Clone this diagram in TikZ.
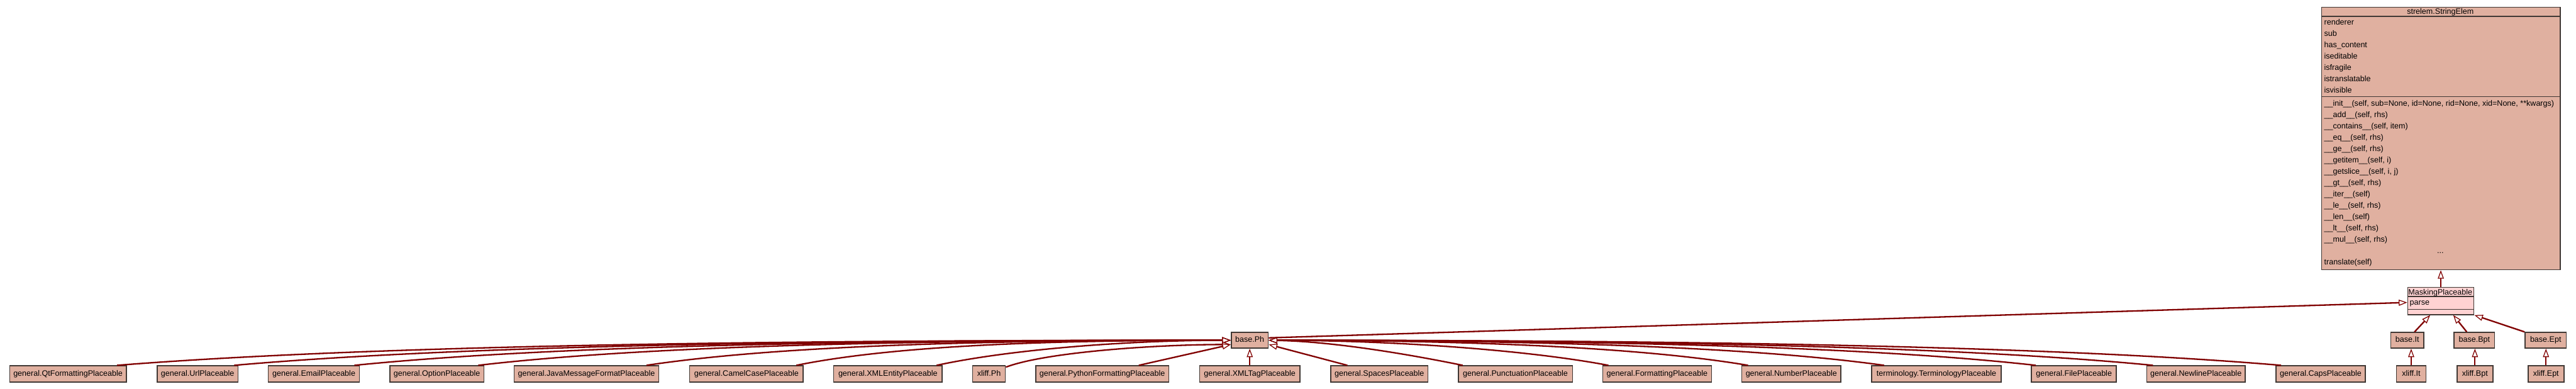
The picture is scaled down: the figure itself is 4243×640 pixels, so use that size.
\documentclass[tikz,border=0pt]{standalone}
\usepackage{fontspec}
\setmainfont{Liberation Sans}
\usetikzlibrary{arrows.meta}
\definecolor{clsfill}{RGB}{224,176,160}
\definecolor{maskfill}{RGB}{255,210,210}
\definecolor{clsborder}{RGB}{64,56,52}
\definecolor{edgecol}{RGB}{128,0,0}
\begin{document}
\begin{tikzpicture}[x=1pt, y=-1pt, font=\fontsize{13}{15}\selectfont,
  cls/.style={draw=clsborder, line width=1.6pt, fill=clsfill, inner sep=0pt, text height=9.4pt, text depth=2.8pt},
  boxrow/.style={cls, minimum height=27pt},
  baserow/.style={cls, minimum height=26pt},
  sepline/.style={draw=clsborder, line width=1.6pt},
  inh/.style={draw=edgecol, line width=2.4pt, -{Triangle[length=14pt,width=10pt,fill=white,line width=1.3pt]}},
  lbl/.style={anchor=base west, inner sep=0pt},
  ctr/.style={anchor=base, inner sep=0pt}]
\useasboundingbox (0,0) rectangle (4243,640);

% ---------- StringElem ----------
\node[draw=clsborder, line width=1.6pt, fill=clsfill, inner sep=0pt, minimum width=393pt, minimum height=432pt, anchor=north west] (se) at (3823,11) {};
\draw[sepline] (3823,27) -- (4216,27);
\draw[sepline] (3823,159) -- (4216,159);
\node[ctr] (seh) at (4019.5,23) {strelem.StringElem};
\node[lbl] (a1) at (3828,40.7) {renderer};
\node[lbl] (a2) at (3828,59.35) {sub};
\node[lbl] (a3) at (3828,78.0) {has\_content};
\node[lbl] (a4) at (3828,96.65) {iseditable};
\node[lbl] (a5) at (3828,115.3) {isfragile};
\node[lbl] (a6) at (3828,133.95) {istranslatable};
\node[lbl] (a7) at (3828,152.6) {isvisible};
\node[lbl] (m1) at (3828,174.5) {\_\_init\_\_(self, sub=None, id=None, rid=None, xid=None, **kwargs)};
\node[lbl] (m2) at (3828,193.15) {\_\_add\_\_(self, rhs)};
\node[lbl] (m3) at (3828,211.8) {\_\_contains\_\_(self, item)};
\node[lbl] (m4) at (3828,230.45) {\_\_eq\_\_(self, rhs)};
\node[lbl] (m5) at (3828,249.1) {\_\_ge\_\_(self, rhs)};
\node[lbl] (m6) at (3828,267.75) {\_\_getitem\_\_(self, i)};
\node[lbl] (m7) at (3828,286.4) {\_\_getslice\_\_(self, i, j)};
\node[lbl] (m8) at (3828,305.05) {\_\_gt\_\_(self, rhs)};
\node[lbl] (m9) at (3828,323.7) {\_\_iter\_\_(self)};
\node[lbl] (m10) at (3828,342.35) {\_\_le\_\_(self, rhs)};
\node[lbl] (m11) at (3828,361.0) {\_\_len\_\_(self)};
\node[lbl] (m12) at (3828,379.65) {\_\_lt\_\_(self, rhs)};
\node[lbl] (m13) at (3828,398.3) {\_\_mul\_\_(self, rhs)};
\node[ctr] (m14) at (4019.5,416.95) {...};
\node[lbl] (m15) at (3828,435.6) {translate(self)};

% ---------- MaskingPlaceable ----------
\node[draw=clsborder, line width=1.6pt, fill=maskfill, inner sep=0pt, minimum width=109pt, minimum height=45pt, anchor=north west] (mp) at (3965,472) {};
\draw[sepline] (3965,488) -- (4074,488);
\draw[sepline] (3965,509) -- (4074,509);
\node[ctr] (mph) at (4019.5,485) {MaskingPlaceable};
\node[lbl] (mpa) at (3969,502) {parse};

% ---------- base row ----------
\node[baserow, minimum width=61pt] (ph) at (2058.5,560) {base.Ph};
\node[baserow, minimum width=54pt] (bit) at (3965,560) {base.It};
\node[baserow, minimum width=67pt] (bbpt) at (4075.5,560) {base.Bpt};
\node[baserow, minimum width=68pt] (bept) at (4193,560) {base.Ept};

% ---------- bottom row ----------
\node[boxrow, minimum width=192pt] (qt) at (112,615.5) {general.QtFormattingPlaceable};
\node[boxrow, minimum width=133pt] (url) at (325.5,615.5) {general.UrlPlaceable};
\node[boxrow, minimum width=150pt] (email) at (517,615.5) {general.EmailPlaceable};
\node[boxrow, minimum width=155pt] (opt) at (719.5,615.5) {general.OptionPlaceable};
\node[boxrow, minimum width=238pt] (java) at (966,615.5) {general.JavaMessageFormatPlaceable};
\node[boxrow, minimum width=187pt] (camel) at (1229.5,615.5) {general.CamelCasePlaceable};
\node[boxrow, minimum width=179pt] (xent) at (1462.5,615.5) {general.XMLEntityPlaceable};
\node[boxrow, minimum width=54pt] (xph) at (1629,615.5) {xliff.Ph};
\node[boxrow, minimum width=219pt] (py) at (1815.5,615.5) {general.PythonFormattingPlaceable};
\node[boxrow, minimum width=165pt] (xtag) at (2058.5,615.5) {general.XMLTagPlaceable};
\node[boxrow, minimum width=160pt] (spaces) at (2272,615.5) {general.SpacesPlaceable};
\node[boxrow, minimum width=188pt] (punct) at (2496,615.5) {general.PunctuationPlaceable};
\node[boxrow, minimum width=179pt] (fmt) at (2729.5,615.5) {general.FormattingPlaceable};
\node[boxrow, minimum width=163pt] (num) at (2950.5,615.5) {general.NumberPlaceable};
\node[boxrow, minimum width=213pt] (term) at (3189.5,615.5) {terminology.TerminologyPlaceable};
\node[boxrow, minimum width=140pt] (file) at (3416,615.5) {general.FilePlaceable};
\node[boxrow, minimum width=162pt] (nl) at (3617,615.5) {general.NewlinePlaceable};
\node[boxrow, minimum width=147pt] (caps) at (3822.5,615.5) {general.CapsPlaceable};
\node[boxrow, minimum width=49pt] (xit) at (3971.5,615.5) {xliff.It};
\node[boxrow, minimum width=59pt] (xbpt) at (4076.5,615.5) {xliff.Bpt};
\node[boxrow, minimum width=59pt] (xept) at (4193.5,615.5) {xliff.Ept};

% ---------- edges into base.Ph (left side) ----------
\draw[inh] ([xshift=-16pt]qt.north east) .. controls (651,565) and (1385,560) .. (ph.west);
\draw[inh] ([xshift=-7pt]url.north east) .. controls (796,565) and (1453,560) .. (ph.west);
\draw[inh] ([xshift=-9pt]email.north east) .. controls (944,565) and (1522,560) .. (ph.west);
\draw[inh] ([xshift=-10pt]opt.north east) .. controls (1097,565) and (1594,560) .. (ph.west);
\draw[inh] ([xshift=-21pt]java.north east) .. controls (1305,565) and (1691,560) .. (ph.west);
\draw[inh] ([xshift=-12pt]camel.north east) .. controls (1490,565) and (1777,560) .. (ph.west);
\draw[inh] ([xshift=-10pt]xent.north east) .. controls (1664,575) and (1858,560) .. (ph.west);
\draw[inh] ([yshift=-3pt]xph.north east) .. controls (1720,580) and (1900,567) .. ([yshift=-7pt]ph.west);
\draw[inh] ([xshift=-50pt]py.north east) -- ([yshift=-7pt]ph.west);
\draw[inh] (xtag.north) -- (xtag.north |- ph.south);

% ---------- edges into base.Ph (right side) ----------
\draw[inh] ([xshift=28pt]spaces.north west) -- ([yshift=-7pt]ph.east);
\draw[inh] ([xshift=8pt]punct.north west) .. controls (2330,585) and (2200,562) .. (ph.east);
\draw[inh] ([xshift=10pt]fmt.north west) .. controls (2510,575) and (2285,560) .. (ph.east);
\draw[inh] ([xshift=11pt]num.north west) .. controls (2682,568) and (2366,560) .. (ph.east);
\draw[inh] ([xshift=21pt]term.north west) .. controls (2850,566) and (2444,560) .. (ph.east);
\draw[inh] ([xshift=8pt]file.north west) .. controls (3038,566) and (2532,560) .. (ph.east);
\draw[inh] ([xshift=11pt]nl.north west) .. controls (3183,566) and (2599,560) .. (ph.east);
\draw[inh] ([xshift=9pt]caps.north west) .. controls (3341,566) and (2673,560) .. (ph.east);

% ---------- right cluster ----------
\draw[inh] (xit.north) -- (xit.north |- bit.south);
\draw[inh] (xbpt.north) -- (xbpt.north |- bbpt.south);
\draw[inh] (xept.north) -- (xept.north |- bept.south);
\draw[inh] ([xshift=12pt]bit.north) -- ([xshift=-17.5pt]mp.south);
\draw[inh] ([xshift=-12.5pt]bbpt.north) -- ([xshift=20.5pt]mp.south);
\draw[inh] (bept.north west) -- (mp.south east);
\draw[inh] ([yshift=4pt]ph.east) -- ([yshift=-2.5pt]mp.west);
\draw[inh] (mp.north) -- (se.south);
\end{tikzpicture}
\end{document}
